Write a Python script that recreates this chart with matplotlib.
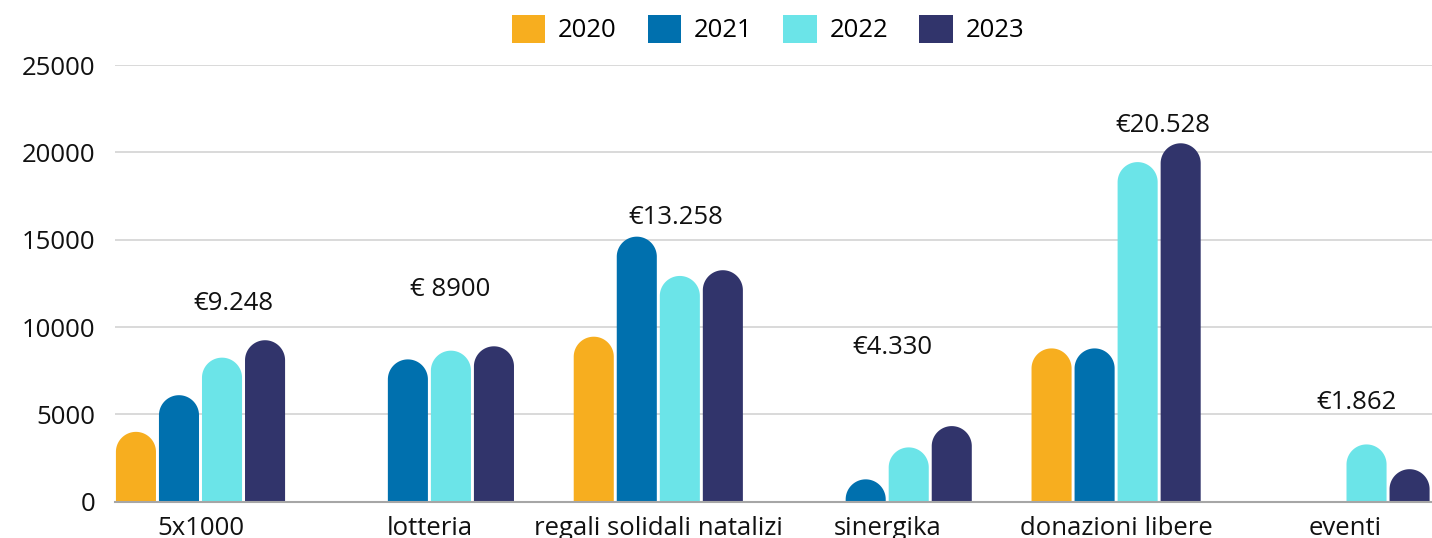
import numpy as np
import matplotlib
matplotlib.use("Agg")
import matplotlib.pyplot as plt
from matplotlib.path import Path
from matplotlib.patches import PathPatch, Patch

plt.rcParams['font.family'] = ['Open Sans', 'DejaVu Sans']

categories = ["5x1000", "lotteria", "regali solidali natalizi", "sinergika", "donazioni libere", "eventi"]
years = ["2020", "2021", "2022", "2023"]
v2020 = [4000, 0, 9450, 0, 8780, 0]
v2021 = [6100, 8150, 15180, 1280, 8780, 0]
v2022 = [8250, 8650, 12930, 3110, 19450, 3280]
v2023 = [9248, 8900, 13258, 4330, 20528, 1862]
series = [v2020, v2021, v2022, v2023]
colors = ["#F7AE1F", "#0070AE", "#6BE4E8", "#31346B"]
labels = ["€9.248", "€ 8900", "€13.258", "€4.330", "€20.528", "€1.862"]
label_pos = [(0.142, 11380), (1.09, 12180), (2.077, 16305), (3.025, 8860), (4.205, 21518), (5.052, 5653)]

W, H = 1432, 538
fig = plt.figure(figsize=(W / 100, H / 100), dpi=100)
ax_l, ax_b = 115 / W, (H - 501.7) / H
ax_w, ax_h = 1 - ax_l, (501.7 - 65.2) / H
ax = fig.add_axes([ax_l, ax_b, ax_w, ax_h])

xlim = (-0.3735, 5.38)
ylim = (0, 25000)
ax.set_xlim(*xlim)
ax.set_ylim(*ylim)

x = np.arange(len(categories))
pitch = 0.188
bw = 0.175
xdpp = (xlim[1] - xlim[0]) / (ax_w * W)
ydpp = (ylim[1] - ylim[0]) / (ax_h * H)

for i, (vals, c) in enumerate(zip(series, colors)):
    bars = ax.bar(x + (i - 1.5) * pitch, vals, width=bw, color=c)
    for r in bars:
        h = r.get_height()
        r.set_visible(False)
        if h <= 0:
            continue
        x0, w = r.get_x(), r.get_width()
        rx = w / 2
        ry = rx / xdpp * ydpp
        cx = x0 + rx
        cy = h - ry
        t = np.linspace(np.pi, 0, 60)
        ax_pts = cx + rx * np.cos(t)
        ay_pts = np.maximum(cy + ry * np.sin(t), 0)
        verts = [(x0, 0)] + list(zip(ax_pts, ay_pts)) + [(x0 + w, 0), (x0, 0)]
        codes = [Path.MOVETO] + [Path.LINETO] * (len(verts) - 2) + [Path.CLOSEPOLY]
        ax.add_patch(PathPatch(Path(verts, codes), facecolor=c, edgecolor='none', zorder=3))

ax.set_yticks(np.arange(0, 25001, 5000))
ax.yaxis.grid(True, color="#D3D3D3", linewidth=1.2)
ax.set_axisbelow(True)
ax.set_xticks(x)
ax.set_xticklabels(categories)
for s in ["top", "right", "left"]:
    ax.spines[s].set_visible(False)
ax.spines["bottom"].set_color("#A6A6A6")
ax.spines["bottom"].set_linewidth(1.5)
ax.spines["bottom"].set_zorder(4)
ax.tick_params(axis='both', length=0, labelsize=18.5, colors="#111111")
ax.tick_params(axis='y', pad=14)
ax.tick_params(axis='x', pad=10)

for txt, (px, py) in zip(labels, label_pos):
    ax.text(px, py, txt, ha='center', va='center', fontsize=18.5, color="#111111")

handles = [Patch(facecolor=c, edgecolor='none') for c in colors]
fig.legend(handles, years, loc='center', bbox_to_anchor=(768 / W, 1 - 29 / H), ncol=4,
           frameon=False, fontsize=18.5, handlelength=1.3, handleheight=1.3,
           handletextpad=0.5, columnspacing=1.2)

fig.savefig("out.png", dpi=100)
